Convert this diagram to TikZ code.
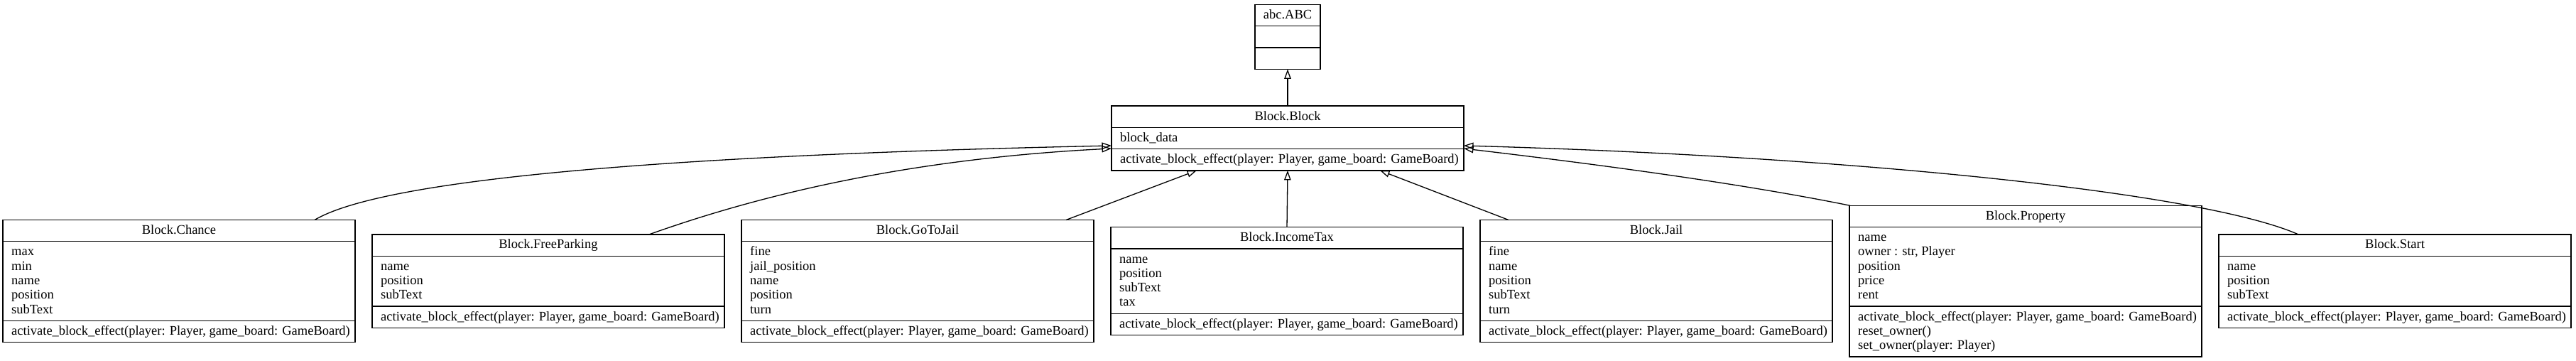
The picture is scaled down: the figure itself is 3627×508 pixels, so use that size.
\documentclass[tikz,border=0pt]{standalone}
\usepackage{fontspec}
\setmainfont{Liberation Serif}
\usetikzlibrary{arrows.meta}
\newcommand{\lstrut}{\rule[-5.5pt]{0pt}{20.3pt}}
\tikzset{
  classbox/.style={draw, line width=1.3pt, inner sep=0pt, outer sep=0pt, anchor=north west},
  sepline/.style={line width=1.3pt},
  txt/.style={inner sep=0pt, font=\fontsize{18.5}{20.3}\selectfont, align=left},
  inh/.style={line width=1.3pt, -{Triangle[open, length=13.5pt, width=9.5pt]}},
}
% #1 name, #2 x left, #3 y top, #4 width, #5 title, #6 n attrs, #7 attrs, #8 n methods, #9 methods
\newcommand{\umlclass}[9]{%
  \pgfmathsetmacro{\ya}{#3+30.3}%
  \pgfmathsetmacro{\yb}{\ya+#6*20.3+10}%
  \pgfmathsetmacro{\yc}{\yb+#8*20.3+10}%
  \pgfmathsetmacro{\ch}{\yc-#3}%
  \pgfmathsetmacro{\xr}{#2+#4}%
  \pgfmathsetmacro{\xm}{#2+#4/2}%
  \node[classbox, minimum width=#4pt, minimum height=\ch pt] (#1) at (#2,#3) {};
  \draw[sepline] (#2,\ya) -- (\xr,\ya);
  \draw[sepline] (#2,\yb) -- (\xr,\yb);
  \node[txt, anchor=north] (#1-t) at (\xm,#3+5) {\lstrut #5};
  \node[txt, anchor=north west] (#1-a) at (#2+12,\ya+5) {\lstrut #7};
  \node[txt, anchor=north west] (#1-m) at (#2+12,\yb+5) {\lstrut #9};
}
\begin{document}
\begin{tikzpicture}[x=1pt,y=-1pt]
\fill[white] (0,0) rectangle (3627,508);
\useasboundingbox (0,0) rectangle (3627,508);

\umlclass{ABC}{1767}{6.5}{92}{abc.ABC}{1}{}{1}{}
\umlclass{Block}{1565}{149}{496}{Block.Block}{1}{block\_data}{1}{activate\_block\_effect(player: Player, game\_board: GameBoard)}

\umlclass{Chance}{4}{309.5}{496}{Block.Chance}{5}{max\\min\\name\\position\\subText}{1}{activate\_block\_effect(player: Player, game\_board: GameBoard)}
\umlclass{FreeParking}{524}{329.9}{496}{Block.FreeParking}{3}{name\\position\\subText}{1}{activate\_block\_effect(player: Player, game\_board: GameBoard)}
\umlclass{GoToJail}{1044}{309.5}{496}{Block.GoToJail}{5}{fine\\jail\_position\\name\\position\\turn}{1}{activate\_block\_effect(player: Player, game\_board: GameBoard)}
\umlclass{IncomeTax}{1564}{319.7}{496}{Block.IncomeTax}{4}{name\\position\\subText\\tax}{1}{activate\_block\_effect(player: Player, game\_board: GameBoard)}
\umlclass{Jail}{2084}{309.5}{496}{Block.Jail}{5}{fine\\name\\position\\subText\\turn}{1}{activate\_block\_effect(player: Player, game\_board: GameBoard)}
\umlclass{Property}{2604}{289.3}{496}{Block.Property}{5}{name\\owner : str, Player\\position\\price\\rent}{3}{activate\_block\_effect(player: Player, game\_board: GameBoard)\\reset\_owner()\\set\_owner(player: Player)}
\umlclass{Start}{3124}{329.9}{496}{Block.Start}{3}{name\\position\\subText}{1}{activate\_block\_effect(player: Player, game\_board: GameBoard)}

\draw[inh] (Block.north) -- (ABC.south);
\draw[inh] ([xshift=439pt]Chance.north west) .. controls (560,240) and (1100,215) .. ([yshift=-56pt]Block.north west);
\draw[inh] ([xshift=390pt]FreeParking.north west) .. controls (1040,285) and (1250,225) .. ([yshift=-60pt]Block.north west);
\draw[inh] ([xshift=457pt]GoToJail.north west) -- ([xshift=120pt]Block.south west);
\draw[inh] (IncomeTax.north) -- (Block.south);
\draw[inh] ([xshift=40pt]Jail.north west) -- ([xshift=-118pt]Block.south east);
\draw[inh] ([xshift=1pt]Property.north west) .. controls (2470,262) and (2290,236) .. ([yshift=-60pt]Block.north east);
\draw[inh] ([xshift=112pt]Start.north west) .. controls (3100,270) and (2600,220) .. ([yshift=-56pt]Block.north east);
\end{tikzpicture}
\end{document}
